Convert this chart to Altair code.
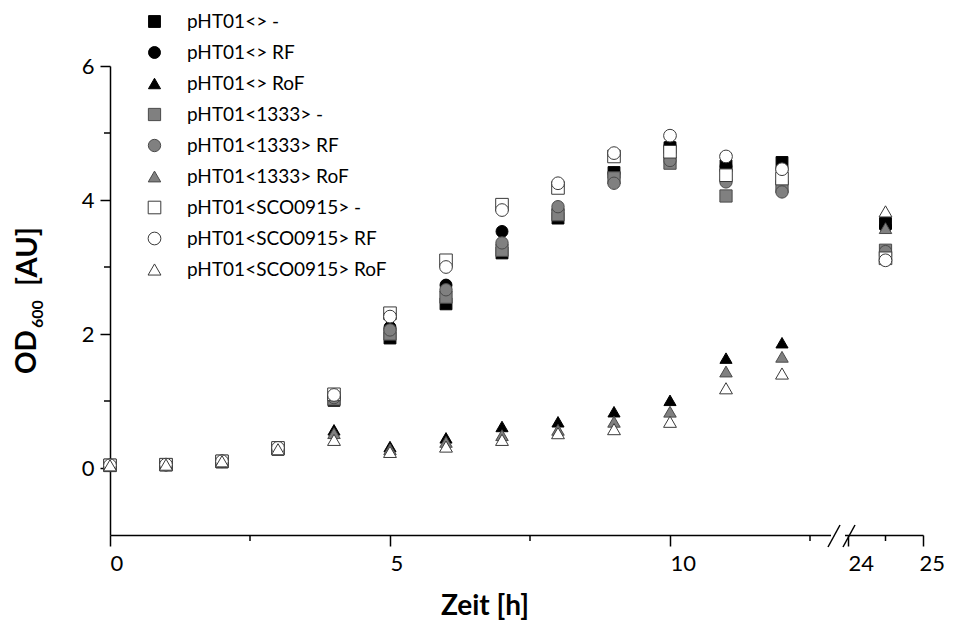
import altair as alt
import pandas as pd

# ---- data ----
times = [0, 1, 2, 3, 4, 5, 6, 7, 8, 9, 10, 11, 12, 24.5]

series_names = [
    "pHT01<> -", "pHT01<> RF", "pHT01<> RoF",
    "pHT01<1333> -", "pHT01<1333> RF", "pHT01<1333> RoF",
    "pHT01<SCO0915> -", "pHT01<SCO0915> RF", "pHT01<SCO0915> RoF",
]

empty_minus = [0.04, 0.05, 0.09, 0.28, 1.01, 1.94, 2.45, 3.21, 3.73, 4.41, 4.78, 4.51, 4.56, 3.65]
empty_rf    = [0.04, 0.05, 0.10, 0.29, 1.05, 2.10, 2.73, 3.53, 3.85, 4.40, 4.81, 4.50, 4.45, 3.60]
empty_rof   = [0.05, 0.06, 0.11, 0.31, 0.57, 0.32, 0.45, 0.62, 0.69, 0.84, 1.01, 1.64, 1.87, 3.68]
p1333_minus = [0.04, 0.05, 0.10, 0.29, 1.03, 2.00, 2.55, 3.25, 3.78, 4.33, 4.55, 4.06, 4.20, 3.25]
p1333_rf    = [0.04, 0.05, 0.10, 0.30, 1.05, 2.06, 2.66, 3.36, 3.90, 4.25, 4.59, 4.27, 4.12, 3.23]
p1333_rof   = [0.05, 0.06, 0.11, 0.30, 0.52, 0.28, 0.39, 0.49, 0.57, 0.69, 0.84, 1.44, 1.66, 3.58]
sco_minus   = [0.04, 0.05, 0.10, 0.30, 1.10, 2.31, 3.10, 3.93, 4.18, 4.65, 4.72, 4.37, 4.32, 3.13]
sco_rf      = [0.04, 0.05, 0.10, 0.30, 1.09, 2.26, 3.00, 3.85, 4.25, 4.70, 4.96, 4.65, 4.46, 3.10]
sco_rof     = [0.04, 0.05, 0.10, 0.28, 0.42, 0.24, 0.32, 0.42, 0.52, 0.58, 0.69, 1.19, 1.41, 3.83]

all_values = [empty_minus, empty_rf, empty_rof, p1333_minus, p1333_rf, p1333_rof,
              sco_minus, sco_rf, sco_rof]

shapes = ["square", "circle", "triangle-up"] * 3
fills = ["#000000"] * 3 + ["#808080"] * 3 + ["#ffffff"] * 3
strokes = ["#000000"] * 3 + ["#4a4a4a"] * 3 + ["#3a3a3a"] * 3
sizes = [140, 165, 250] * 3

x_major = [0, 5, 10, 24, 25]
x_minor = [2.5, 7.5, 12.5, 24.5]
y_major = [0, 2, 4, 6]
y_minor = [1, 3, 5]

rows = []
for name, vals in zip(series_names, all_values):
    for t, v in zip(times, vals):
        rows.append({"series": name, "t": t, "od": v})
df = pd.DataFrame(rows)
one = pd.DataFrame({"k": [0]})

FONT = "Lato"

x_scale = alt.Scale(domain=[0, 13, 24, 25], range=[0, 728, 738, 813], nice=False, zero=False)
y_scale = alt.Scale(domain=[-1, 6], nice=False, zero=False)

x_axis = alt.Axis(values=x_major, title=None, grid=False, labelAlign="left", tickSize=11,
                  labelFontSize=22, labelFont=FONT, labelColor="black", tickColor="black",
                  domainColor="black", domainWidth=1.5, tickWidth=1.5, labelPadding=7,
                  labelOffset={"condition": {"test": "datum.value == 25", "value": -4}, "value": 0},
                  format="d", labelOverlap=False)
y_axis = alt.Axis(values=y_major, title=None, grid=False, tickSize=10,
                  labelFontSize=22, labelFont=FONT, labelColor="black", tickColor="black",
                  domainColor="black", domainWidth=1.5, tickWidth=1.5, labelPadding=6,
                  format="d", labelOverlap=False)

x_enc = alt.X("t:Q", scale=x_scale, axis=x_axis)
y_enc = alt.Y("od:Q", scale=y_scale, axis=y_axis)

leg = alt.Legend(title=None, orient="none", legendX=35, legendY=-54, labelFont=FONT,
                 labelFontSize=19, labelColor="black", rowPadding=11, labelOffset=23,
                 labelLimit=0, symbolStrokeWidth=1)

points = alt.Chart(df).mark_point(filled=True, opacity=1, strokeWidth=1).encode(
    x=x_enc,
    y=y_enc,
    shape=alt.Shape("series:N", scale=alt.Scale(domain=series_names, range=shapes), legend=leg),
    fill=alt.Fill("series:N", scale=alt.Scale(domain=series_names, range=fills), legend=leg),
    stroke=alt.Stroke("series:N", scale=alt.Scale(domain=series_names, range=strokes), legend=leg),
    size=alt.Size("series:N", scale=alt.Scale(domain=series_names, range=sizes), legend=leg),
)

minor_x_ticks = alt.Chart(pd.DataFrame({"t": x_minor})).mark_rule(color="black", strokeWidth=1.5).encode(
    x=x_enc, y=alt.value(469), y2=alt.value(475)
)
minor_y_ticks = alt.Chart(pd.DataFrame({"od": y_minor})).mark_rule(color="black", strokeWidth=1.5).encode(
    y=y_enc, x=alt.value(0), x2=alt.value(-6)
)

gap = alt.Chart(one).mark_rect(color="white").encode(
    x=alt.value(721), x2=alt.value(735), y=alt.value(465), y2=alt.value(474)
)
slash1 = alt.Chart(one).mark_rule(color="black", strokeWidth=1.5).encode(
    x=alt.value(718), y=alt.value(481), x2=alt.value(730), y2=alt.value(459)
)
slash2 = alt.Chart(one).mark_rule(color="black", strokeWidth=1.5).encode(
    x=alt.value(733), y=alt.value(481), x2=alt.value(745), y2=alt.value(459)
)

x_title = alt.Chart(one).mark_text(text="Zeit [h]", font=FONT, fontSize=28, fontWeight="bold",
                                   color="black", align="center", baseline="middle").encode(
    x=alt.value(375), y=alt.value(541)
)
y_title_od = alt.Chart(one).mark_text(text="OD", font=FONT, fontSize=28, fontWeight="bold",
                                      color="black", align="left", baseline="middle", angle=270).encode(
    x=alt.value(-82), y=alt.value(308)
)
y_title_sub = alt.Chart(one).mark_text(text="600", font=FONT, fontSize=16, fontWeight="bold",
                                       color="black", align="left", baseline="middle", angle=270).encode(
    x=alt.value(-72), y=alt.value(262)
)
y_title_au = alt.Chart(one).mark_text(text="[AU]", font=FONT, fontSize=29, fontWeight="bold",
                                      color="black", align="left", baseline="middle", angle=270).encode(
    x=alt.value(-82), y=alt.value(220)
)

chart = alt.layer(
    minor_x_ticks, minor_y_ticks, gap, slash1, slash2, points,
    x_title, y_title_od, y_title_sub, y_title_au
).properties(
    width=813, height=469,
    autosize=alt.AutoSizeParams(type="none"),
    padding={"left": 102, "top": 58, "right": 23, "bottom": 86},
).configure(background="white").configure_view(stroke=None)

chart.save("out.html", embed_options={"renderer": "svg", "actions": False})
